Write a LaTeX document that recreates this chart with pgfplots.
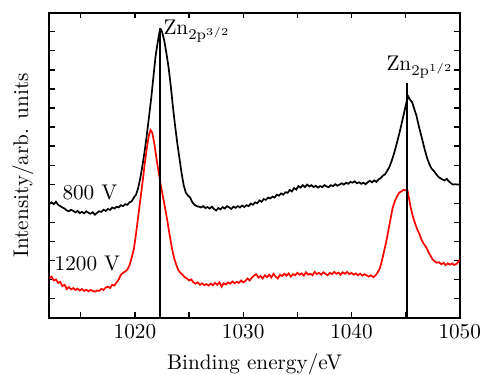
\documentclass[border=0pt]{standalone}
\usepackage{pgfplots}
\pgfplotsset{compat=1.18}
\begin{document}
\begin{tikzpicture}
\begin{axis}[
 scale only axis, width=193.4pt, height=143.7pt,
 xmin=1012.1, xmax=1050, ymin=0, ymax=16,
 xtick={1020,1030,1040,1050},
 minor xtick={1015,1025,1035,1045},
 ytick={1,...,15}, yticklabels={},
 major tick length=2.5pt, minor tick length=2.5pt,
 tick style={black, line width=0.6pt},
 axis line style={line width=0.9pt},
 x tick label style={/pgf/number format/1000 sep={}},
 xlabel={Binding energy/eV}, ylabel={Intensity/arb. units},
 every axis y label/.style={at={(axis description cs:-0.065,0.5)}, rotate=90, anchor=center},
]
\addplot[black, line width=0.8pt] coordinates {
(1012.1,5.96)(1012.3,6.05)(1012.5,5.95)(1012.7,6.08)(1012.9,5.92)(1013.1,5.85)(1013.3,5.78)(1013.5,5.72)(1013.7,5.62)(1013.9,5.58)
(1014.1,5.66)(1014.3,5.60)(1014.5,5.52)(1014.7,5.60)(1014.9,5.48)(1015.1,5.55)(1015.3,5.47)(1015.5,5.58)(1015.7,5.50)(1015.9,5.45)
(1016.1,5.53)(1016.3,5.40)(1016.5,5.50)(1016.7,5.58)(1016.9,5.55)(1017.1,5.66)(1017.3,5.60)(1017.5,5.70)(1017.7,5.65)(1017.9,5.78)
(1018.1,5.72)(1018.3,5.82)(1018.5,5.78)(1018.7,5.90)(1018.9,5.85)(1019.1,5.95)(1019.3,5.92)(1019.5,6.05)(1019.7,6.10)(1019.9,6.30)
(1020.1,6.45)(1020.3,6.80)(1020.5,7.35)(1020.7,8.00)(1020.9,8.75)(1021.1,9.60)(1021.3,10.55)(1021.5,11.50)(1021.7,12.60)(1021.9,13.70)
(1022.1,14.45)(1022.3,15.10)(1022.4,15.12)(1022.5,15.00)(1022.7,14.55)(1022.9,13.90)(1023.1,13.15)(1023.3,12.20)(1023.5,11.10)(1023.7,10.10)
(1023.9,9.20)(1024.1,8.40)(1024.3,7.60)(1024.5,6.95)(1024.7,6.55)(1024.9,6.40)(1025.1,6.30)(1025.3,6.05)(1025.5,5.92)(1025.7,5.85)
(1025.9,5.82)(1026.1,5.78)(1026.3,5.85)(1026.5,5.75)(1026.7,5.80)(1026.9,5.72)(1027.1,5.82)(1027.3,5.70)(1027.5,5.62)(1027.7,5.75)
(1027.9,5.68)(1028.1,5.80)(1028.3,5.72)(1028.5,5.85)(1028.7,5.78)(1028.9,5.70)(1029.1,5.82)(1029.3,5.76)(1029.5,5.85)(1029.7,5.78)
(1029.9,5.88)(1030.1,5.80)(1030.3,5.90)(1030.5,5.85)(1030.7,5.98)(1030.9,5.92)(1031.1,6.05)(1031.3,6.00)(1031.5,6.15)(1031.7,6.08)
(1031.9,6.22)(1032.1,6.18)(1032.3,6.30)(1032.5,6.25)(1032.7,6.35)(1032.9,6.30)(1033.1,6.45)(1033.3,6.40)(1033.5,6.52)(1033.7,6.45)
(1033.9,6.58)(1034.1,6.55)(1034.3,6.70)(1034.5,6.62)(1034.7,6.80)(1034.9,6.72)(1035.1,6.90)(1035.3,6.82)(1035.5,6.95)(1035.7,6.85)
(1035.9,6.98)(1036.1,6.88)(1036.3,6.95)(1036.5,6.85)(1036.7,6.92)(1036.9,6.82)(1037.1,6.90)(1037.3,6.85)(1037.5,6.95)(1037.7,6.88)
(1037.9,6.85)(1038.1,6.95)(1038.3,6.90)(1038.5,7.00)(1038.7,6.92)(1038.9,6.98)(1039.1,7.05)(1039.3,6.98)(1039.5,7.08)(1039.7,7.02)
(1039.9,7.12)(1040.1,7.08)(1040.3,7.15)(1040.5,7.05)(1040.7,7.10)(1040.9,7.02)(1041.1,7.08)(1041.3,7.00)(1041.5,7.10)(1041.7,7.18)
(1041.9,7.10)(1042.1,7.20)(1042.3,7.12)(1042.5,7.25)(1042.7,7.32)(1042.9,7.45)(1043.1,7.52)(1043.3,7.70)(1043.5,7.90)(1043.7,8.20)
(1043.9,8.55)(1044.1,8.95)(1044.3,9.40)(1044.5,9.85)(1044.7,10.35)(1044.9,10.85)(1045.1,11.35)(1045.25,11.60)(1045.4,11.45)(1045.6,11.30)
(1045.8,10.95)(1046.0,10.60)(1046.2,10.10)(1046.4,9.65)(1046.6,9.20)(1046.8,8.75)(1047.0,8.35)(1047.2,8.05)(1047.4,7.82)(1047.6,7.70)
(1047.8,7.55)(1048.0,7.40)(1048.2,7.32)(1048.4,7.25)(1048.6,7.20)(1048.8,7.28)(1049.0,7.15)(1049.2,7.05)(1049.4,6.98)(1049.6,7.00)
(1049.8,6.98)(1050.0,7.00)
};
\addplot[red, line width=0.8pt] coordinates {
(1012.1,2.07)(1012.3,2.15)(1012.5,1.95)(1012.7,2.00)(1012.9,1.82)(1013.1,1.88)(1013.3,1.65)(1013.5,1.72)(1013.7,1.50)(1013.9,1.60)
(1014.1,1.48)(1014.3,1.55)(1014.5,1.45)(1014.7,1.52)(1014.9,1.42)(1015.1,1.50)(1015.3,1.40)(1015.5,1.46)(1015.7,1.38)(1015.9,1.45)
(1016.1,1.40)(1016.3,1.36)(1016.5,1.42)(1016.7,1.40)(1016.9,1.50)(1017.1,1.45)(1017.3,1.58)(1017.5,1.62)(1017.7,1.55)(1017.9,1.72)
(1018.1,1.68)(1018.3,1.85)(1018.5,2.00)(1018.7,2.25)(1018.9,2.35)(1019.1,2.42)(1019.3,2.52)(1019.5,2.75)(1019.7,3.15)(1019.9,3.60)
(1020.1,4.40)(1020.3,5.30)(1020.5,6.20)(1020.7,7.10)(1020.9,8.05)(1021.1,8.90)(1021.3,9.60)(1021.45,9.84)(1021.6,9.70)(1021.8,9.10)
(1022.0,8.30)(1022.2,7.60)(1022.4,6.90)(1022.6,6.30)(1022.8,5.70)(1023.0,5.05)(1023.2,4.35)(1023.4,3.70)(1023.6,3.15)(1023.8,2.80)
(1024.0,2.50)(1024.2,2.35)(1024.4,2.25)(1024.6,2.12)(1024.8,2.05)(1025.0,1.95)(1025.2,2.00)(1025.4,1.85)(1025.6,1.78)(1025.8,1.85)
(1026.0,1.72)(1026.2,1.80)(1026.4,1.70)(1026.6,1.76)(1026.8,1.68)(1027.0,1.78)(1027.2,1.70)(1027.4,1.82)(1027.6,1.72)(1027.8,1.85)
(1028.0,1.62)(1028.2,1.80)(1028.4,1.74)(1028.6,1.85)(1028.8,1.78)(1029.0,1.90)(1029.2,1.80)(1029.4,1.88)(1029.6,1.82)(1029.8,1.95)
(1030.0,1.85)(1030.2,1.92)(1030.4,2.05)(1030.6,1.95)(1030.8,2.10)(1031.0,2.20)(1031.2,2.28)(1031.4,2.10)(1031.6,2.18)(1031.8,2.05)
(1032.0,2.22)(1032.2,2.12)(1032.4,2.25)(1032.6,2.10)(1032.8,2.30)(1033.0,2.15)(1033.2,2.05)(1033.4,2.25)(1033.6,2.18)(1033.8,2.30)
(1034.0,2.20)(1034.2,2.32)(1034.4,2.15)(1034.6,2.28)(1034.8,2.22)(1035.0,2.35)(1035.2,2.25)(1035.4,2.32)(1035.6,2.20)(1035.8,2.38)
(1036.0,2.25)(1036.2,2.30)(1036.4,2.22)(1036.6,2.40)(1036.8,2.28)(1037.0,2.35)(1037.2,2.25)(1037.4,2.38)(1037.6,2.30)(1037.8,2.22)
(1038.0,2.35)(1038.2,2.28)(1038.4,2.40)(1038.6,2.30)(1038.8,2.36)(1039.0,2.25)(1039.2,2.38)(1039.4,2.30)(1039.6,2.40)(1039.8,2.28)
(1040.0,2.35)(1040.2,2.25)(1040.4,2.32)(1040.6,2.22)(1040.8,2.30)(1041.0,2.20)(1041.2,2.28)(1041.4,2.22)(1041.6,2.15)(1041.8,2.22)
(1042.0,2.12)(1042.2,2.20)(1042.4,2.35)(1042.6,2.55)(1042.8,2.95)(1043.0,3.45)(1043.2,3.95)(1043.4,4.55)(1043.6,5.15)(1043.8,5.75)
(1044.0,6.10)(1044.2,6.35)(1044.4,6.55)(1044.6,6.62)(1044.8,6.70)(1045.0,6.68)(1045.15,6.75)(1045.3,6.30)(1045.5,5.70)(1045.7,5.25)
(1045.9,4.90)(1046.1,4.60)(1046.3,4.35)(1046.5,4.05)(1046.7,3.85)(1046.9,3.70)(1047.1,3.45)(1047.3,3.25)(1047.5,3.05)(1047.7,2.95)
(1047.9,2.88)(1048.1,2.90)(1048.3,2.80)(1048.5,2.88)(1048.7,2.75)(1048.9,2.85)(1049.1,2.78)(1049.3,2.84)(1049.5,2.76)(1049.7,2.82)
(1049.9,2.95)(1050.0,3.06)
};
\addplot[black, line width=1pt] coordinates {(1022.3,0) (1022.3,15.2)};
\addplot[black, line width=1pt] coordinates {(1045.15,0) (1045.15,12.3)};
\node[anchor=base west, inner sep=0pt] at (axis cs:1022.6,14.86) {$\mathrm{Zn}_{\mathrm{2p}^{3/2}}$};
\node[anchor=base west, inner sep=0pt] at (axis cs:1043.2,12.95) {$\mathrm{Zn}_{\mathrm{2p}^{1/2}}$};
\node[anchor=base west, inner sep=0pt] at (axis cs:1013.27,6.21) {800 V};
\node[anchor=base west, inner sep=0pt] at (axis cs:1012.55,2.49) {1200 V};
\coordinate (sw) at (rel axis cs:0,0);
\coordinate (ne) at (rel axis cs:1,1);
\end{axis}
\pgfresetboundingbox
\path[use as bounding box] ([xshift=-23.3pt,yshift=-27pt]sw) rectangle ([xshift=10.5pt,yshift=6pt]ne);
\end{tikzpicture}
\end{document}
